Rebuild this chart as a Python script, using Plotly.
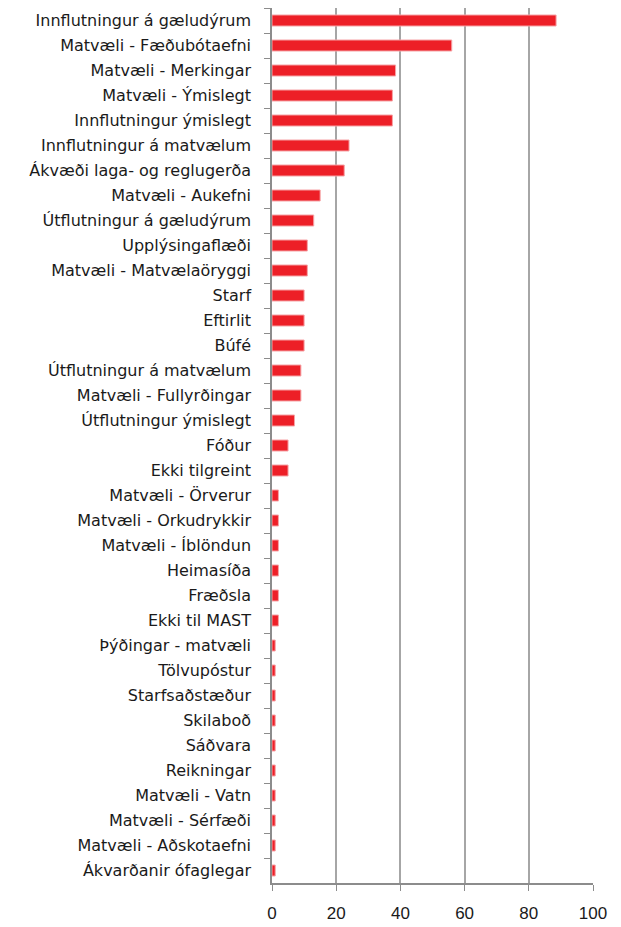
import plotly.graph_objects as go

# Categories, top to bottom as shown in the chart
categories = [
    "Innflutningur á gæludýrum",
    "Matvæli - Fæðubótaefni",
    "Matvæli - Merkingar",
    "Matvæli - Ýmislegt",
    "Innflutningur ýmislegt",
    "Innflutningur á matvælum",
    "Ákvæði laga- og reglugerða",
    "Matvæli - Aukefni",
    "Útflutningur á gæludýrum",
    "Upplýsingaflæði",
    "Matvæli - Matvælaöryggi",
    "Starf",
    "Eftirlit",
    "Búfé",
    "Útflutningur á matvælum",
    "Matvæli - Fullyrðingar",
    "Útflutningur ýmislegt",
    "Fóður",
    "Ekki tilgreint",
    "Matvæli - Örverur",
    "Matvæli - Orkudrykkir",
    "Matvæli - Íblöndun",
    "Heimasíða",
    "Fræðsla",
    "Ekki til MAST",
    "Þýðingar - matvæli",
    "Tölvupóstur",
    "Starfsaðstæður",
    "Skilaboð",
    "Sáðvara",
    "Reikningar",
    "Matvæli - Vatn",
    "Matvæli - Sérfæði",
    "Matvæli - Aðskotaefni",
    "Ákvarðanir ófaglegar",
]

values = [
    88.5, 56, 38.5, 37.5, 37.5, 24, 22.5, 15, 13, 11,
    11, 10, 10, 10, 9, 9, 7, 5, 5, 2,
    2, 2, 2, 2, 2, 1, 1, 1, 1, 1,
    1, 1, 1, 1, 1,
]

x_ticks = [0, 20, 40, 60, 80, 100]

fig = go.Figure(
    go.Bar(
        x=values,
        y=categories,
        orientation="h",
        marker=dict(color="#ED1F27", line=dict(color="#F6A3A6", width=1)),
        hoverinfo="x+y",
    )
)

# page body has an 8px margin, so the figure is sized to fit the window
fig.update_layout(
    width=613,
    height=919,
    margin=dict(l=264, r=28, t=0, b=44),
    paper_bgcolor="white",
    plot_bgcolor="white",
    showlegend=False,
    bargap=0.56,
    font=dict(family="DejaVu Sans, Arial, sans-serif", size=16, color="#1a1a1a"),
)

fig.update_xaxes(
    range=[0, 100],
    tickvals=x_ticks,
    showgrid=True,
    gridcolor="#a6a6a6",
    gridwidth=1.5,
    zeroline=False,
    showline=True,
    linecolor="#8c8c8c",
    linewidth=1.5,
    ticks="outside",
    ticklen=6,
    tickcolor="#8c8c8c",
    tickfont=dict(family="Liberation Sans, Arial, sans-serif", size=17),
    ticklabelstandoff=8,
)

fig.update_yaxes(
    categoryorder="array",
    categoryarray=categories,
    range=[len(categories) - 0.5, -0.5],
    showgrid=False,
    zeroline=False,
    showline=True,
    linecolor="#8c8c8c",
    linewidth=1.5,
    ticks="outside",
    tickson="boundaries",
    ticklen=6,
    tickcolor="#8c8c8c",
    ticklabelstandoff=16,
)

fig.write_html("out.html")
